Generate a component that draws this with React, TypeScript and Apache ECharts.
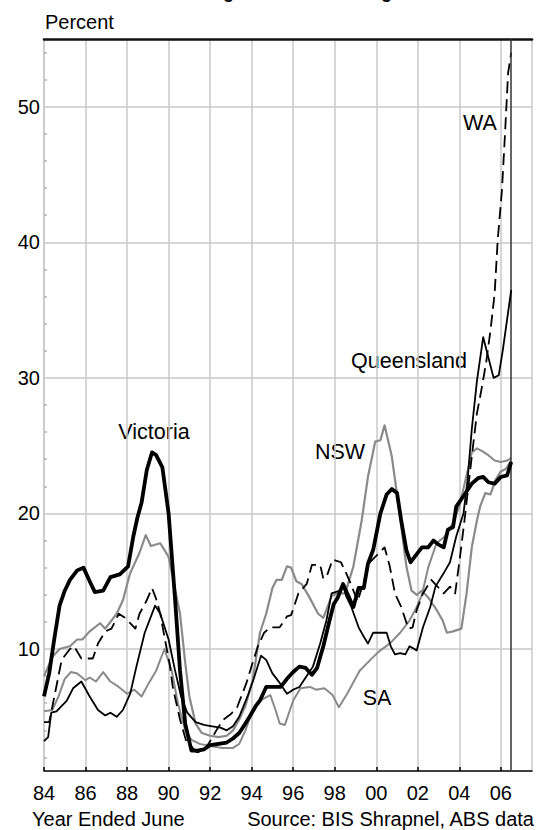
import React, { useEffect, useRef } from 'react';
import * as echarts from 'echarts';

const FONT = '"Liberation Sans", Arial, Helvetica, sans-serif';

const titleText = 'Housing Land Price Changes';
const yAxisTitle = 'Percent';
const xAxisNote = 'Year Ended June';
const sourceNote = 'Source: BIS Shrapnel, ABS data';

const xTickYears = [1984, 1986, 1988, 1990, 1992, 1994, 1996, 1998, 2000, 2002, 2004, 2006];
const xTickLabels = ['84', '86', '88', '90', '92', '94', '96', '98', '00', '02', '04', '06'];
const yTickValues = [10, 20, 30, 40, 50];
const yTickLabels = ['10', '20', '30', '40', '50'];
const yMinorTicks = [2, 4, 6, 8, 12, 14, 16, 18, 22, 24, 26, 28, 32, 34, 36, 38, 42, 44, 46, 48, 52, 54];
const xRange = [1984, 2007.5];
const yRange = [1, 55];
const dataEndYear = 2006.5;

const victoria: [number, number][] = [
  [1984.0, 6.5], [1984.25, 8.2], [1984.5, 10.8], [1984.75, 13.2], [1985.0, 14.3], [1985.25, 15.1], [1985.6, 15.8],
  [1985.9, 16.0], [1986.2, 15.0], [1986.45, 14.2], [1986.85, 14.3], [1987.2, 15.3], [1987.65, 15.5], [1988.05, 16.1],
  [1988.3, 18.3], [1988.5, 19.7], [1988.7, 20.8], [1988.95, 23.2], [1989.2, 24.5], [1989.4, 24.3], [1989.7, 23.4],
  [1990.0, 20.0], [1990.3, 13.9], [1990.55, 8.4], [1990.8, 4.5], [1991.1, 2.5], [1991.4, 2.5], [1991.7, 2.6],
  [1992.0, 2.9], [1992.4, 3.0], [1992.8, 3.1], [1993.1, 3.4], [1993.4, 3.8], [1993.7, 4.5], [1993.9, 5.0],
  [1994.2, 5.8], [1994.4, 6.2], [1994.7, 7.2], [1995.05, 7.2], [1995.4, 7.2], [1995.7, 7.8], [1996.0, 8.3],
  [1996.3, 8.7], [1996.6, 8.6], [1996.9, 8.1], [1997.15, 8.6], [1997.45, 10.2], [1997.75, 12.1], [1997.95, 13.3],
  [1998.15, 13.8], [1998.4, 14.8], [1998.75, 13.6], [1998.9, 13.1], [1999.15, 14.5], [1999.4, 14.5], [1999.6, 16.3],
  [1999.85, 17.3], [2000.2, 20.0], [2000.5, 21.4], [2000.75, 21.8], [2001.0, 21.5], [2001.2, 19.5], [2001.45, 17.3],
  [2001.65, 16.4], [2001.95, 17.0], [2002.2, 17.5], [2002.5, 17.5], [2002.75, 18.0], [2003.0, 17.7], [2003.25, 17.5],
  [2003.45, 18.8], [2003.7, 19.0], [2003.85, 20.5], [2004.25, 21.4], [2004.6, 22.2], [2004.9, 22.6], [2005.15, 22.7],
  [2005.4, 22.3], [2005.7, 22.2], [2006.0, 22.7], [2006.3, 22.8], [2006.5, 23.8],
];

const nsw: [number, number][] = [
  [1984.0, 8.0], [1984.4, 9.4], [1984.75, 10.0], [1985.25, 10.2], [1985.6, 10.7], [1985.85, 10.7], [1986.2, 11.3],
  [1986.7, 11.9], [1986.95, 11.5], [1987.5, 12.6], [1987.8, 13.6], [1988.15, 15.6], [1988.6, 17.1], [1988.9, 18.4],
  [1989.15, 17.6], [1989.6, 17.8], [1990.0, 16.8], [1990.3, 14.5], [1990.55, 12.6], [1990.8, 9.0], [1991.0, 6.5],
  [1991.3, 4.5], [1991.6, 3.8], [1992.0, 3.6], [1992.4, 3.5], [1992.8, 3.6], [1993.1, 4.0], [1993.4, 4.8],
  [1993.7, 5.8], [1994.05, 7.7], [1994.4, 11.2], [1994.7, 12.6], [1995.0, 14.5], [1995.2, 15.1], [1995.45, 15.1],
  [1995.7, 16.1], [1995.9, 16.0], [1996.15, 15.0], [1996.4, 14.8], [1996.75, 13.9], [1997.2, 12.6], [1997.45, 12.3],
  [1997.85, 13.9], [1998.1, 14.1], [1998.5, 14.1], [1998.9, 16.1], [1999.3, 19.5], [1999.6, 22.7], [1999.95, 25.3],
  [2000.2, 25.4], [2000.4, 26.5], [2000.75, 24.2], [2001.15, 19.7], [2001.45, 16.1], [2001.7, 14.3], [2001.95, 14.0],
  [2002.2, 14.3], [2002.5, 13.8], [2002.9, 12.9], [2003.2, 12.1], [2003.4, 11.2], [2003.7, 11.3], [2004.1, 11.5],
  [2004.35, 14.1], [2004.6, 17.5], [2004.85, 19.5], [2005.0, 20.5], [2005.25, 21.5], [2005.5, 21.4], [2005.75, 22.5],
  [2006.0, 23.1], [2006.25, 23.3], [2006.5, 23.9],
];

const sa: [number, number][] = [
  [1984.0, 5.4], [1984.4, 5.5], [1984.7, 6.5], [1985.0, 7.8], [1985.3, 8.3], [1985.6, 8.2], [1986.0, 7.7],
  [1986.2, 7.9], [1986.5, 7.6], [1986.85, 8.3], [1987.2, 7.6], [1987.6, 7.2], [1988.0, 6.7], [1988.35, 7.0],
  [1988.7, 6.5], [1989.05, 7.5], [1989.4, 8.4], [1989.8, 10.0], [1990.15, 8.4], [1990.45, 6.0], [1990.8, 4.0],
  [1991.1, 3.3], [1991.5, 3.0], [1992.15, 2.8], [1992.6, 2.7], [1993.1, 2.7], [1993.4, 3.0], [1993.7, 4.0],
  [1994.0, 5.3], [1994.4, 6.2], [1994.9, 6.6], [1995.15, 5.5], [1995.35, 4.5], [1995.6, 4.4], [1996.0, 6.2],
  [1996.35, 7.1], [1996.8, 7.2], [1997.1, 7.0], [1997.5, 7.1], [1997.9, 6.6], [1998.2, 5.7], [1998.6, 6.7],
  [1999.2, 8.4], [1999.85, 9.4], [2000.2, 9.9], [2000.65, 10.4], [2001.15, 11.2], [2001.6, 12.1], [2001.95, 13.1],
  [2002.2, 14.0], [2002.5, 16.0], [2002.9, 17.8], [2003.3, 18.3], [2003.7, 19.3], [2004.0, 20.5], [2004.3, 22.5],
  [2004.6, 24.5], [2004.85, 24.8], [2005.1, 24.6], [2005.4, 24.3], [2005.7, 23.9], [2006.0, 23.8], [2006.3, 23.9],
  [2006.5, 24.1],
];

const wa: [number, number][] = [
  [1984.0, 4.6], [1984.25, 4.6], [1984.5, 6.5], [1984.85, 9.2], [1985.25, 10.0], [1985.45, 10.2], [1985.8, 9.3],
  [1986.35, 9.3], [1986.6, 10.4], [1986.95, 11.3], [1987.25, 11.5], [1987.6, 12.6], [1987.9, 12.3], [1988.15, 11.9],
  [1988.4, 11.5], [1988.6, 12.6], [1988.95, 13.6], [1989.2, 14.5], [1989.4, 13.7], [1989.6, 12.6], [1989.8, 10.9],
  [1990.05, 8.9], [1990.2, 7.2], [1990.55, 4.8], [1990.85, 3.2], [1991.35, 2.4], [1991.65, 2.4], [1992.0, 3.2],
  [1992.3, 4.0], [1992.65, 4.8], [1993.0, 5.2], [1993.3, 5.7], [1993.75, 7.5], [1994.05, 9.0], [1994.3, 10.2],
  [1994.6, 11.2], [1994.9, 11.6], [1995.35, 11.6], [1995.7, 12.4], [1995.9, 12.5], [1996.25, 14.1], [1996.65, 14.8],
  [1996.9, 16.2], [1997.3, 16.2], [1997.45, 15.2], [1997.6, 15.3], [1997.9, 16.6], [1998.3, 16.4], [1998.55, 15.6],
  [1998.8, 14.7], [1999.1, 13.5], [1999.4, 15.0], [1999.7, 16.4], [1999.95, 16.8], [2000.4, 17.5], [2000.65, 16.1],
  [2000.9, 14.1], [2001.2, 13.1], [2001.55, 11.5], [2001.75, 11.6], [2001.95, 12.9], [2002.25, 14.1], [2002.65, 15.1],
  [2002.95, 14.6], [2003.25, 14.1], [2003.55, 14.6], [2003.8, 14.1], [2004.05, 17.0], [2004.25, 19.5], [2004.6, 24.2],
  [2004.85, 27.4], [2005.05, 29.0], [2005.3, 31.2], [2005.5, 33.5], [2005.7, 36.2], [2005.85, 40.2], [2006.05, 43.8],
  [2006.2, 48.0], [2006.35, 52.5], [2006.5, 54.0],
];

const qld: [number, number][] = [
  [1984.0, 3.2], [1984.2, 3.5], [1984.35, 5.3], [1984.6, 5.4], [1985.1, 6.2], [1985.4, 7.1], [1985.8, 7.6],
  [1986.2, 6.5], [1986.6, 5.5], [1986.95, 5.1], [1987.2, 5.3], [1987.5, 5.0], [1987.8, 5.5], [1988.15, 6.7],
  [1988.45, 8.7], [1988.85, 11.2], [1989.35, 13.2], [1989.6, 12.6], [1990.0, 10.7], [1990.3, 8.5], [1990.6, 6.5],
  [1990.9, 5.3], [1991.3, 4.6], [1991.7, 4.4], [1992.1, 4.3], [1992.5, 4.2], [1992.8, 4.0], [1993.1, 4.3],
  [1993.4, 5.0], [1993.8, 6.5], [1994.1, 7.8], [1994.45, 9.5], [1994.7, 9.2], [1995.0, 8.2], [1995.35, 7.5],
  [1995.7, 6.7], [1996.0, 7.0], [1996.3, 7.2], [1996.65, 8.0], [1996.95, 8.7], [1997.3, 10.4], [1997.6, 12.1],
  [1997.85, 14.1], [1998.25, 14.3], [1998.4, 14.7], [1998.55, 13.9], [1998.8, 13.1], [1999.15, 11.6], [1999.4, 10.9],
  [1999.6, 10.4], [1999.85, 11.2], [2000.2, 11.2], [2000.5, 11.2], [2000.7, 10.2], [2000.9, 9.6], [2001.15, 9.7],
  [2001.4, 9.6], [2001.6, 10.2], [2001.95, 9.9], [2002.25, 11.6], [2002.6, 13.1], [2002.85, 14.6], [2003.25, 15.6],
  [2003.55, 16.4], [2003.85, 18.3], [2004.2, 20.0], [2004.4, 22.5], [2004.6, 26.2], [2004.85, 29.8], [2005.15, 33.0],
  [2005.4, 31.5], [2005.65, 30.0], [2005.9, 30.2], [2006.1, 32.1], [2006.5, 36.5],
];

const GRID_COLOR = '#c8c8c8';
const GRAY_LINE = '#8a8a8a';

function line(name: string, data: [number, number][], color: string, width: number, type: any, z: number, extra: any = {}) {
  return {
    type: 'line',
    name,
    data,
    showSymbol: false,
    symbol: 'none',
    silent: true,
    z,
    lineStyle: { color, width, type, join: 'round', cap: 'butt' },
    ...extra,
  };
}

export default function App() {
  const ref = useRef<HTMLDivElement>(null);

  useEffect(() => {
    document.body.style.margin = '0';
    if (!ref.current) return;
    const chart = echarts.init(ref.current, undefined, { renderer: 'svg' });

    const textStyle = (text: string, size: number, align: string, weight = 'normal') => ({
      text,
      fontSize: size,
      fontFamily: FONT,
      fontWeight: weight,
      fill: '#000',
      align,
      verticalAlign: 'middle',
    });

    const option: any = {
      animation: false,
      backgroundColor: '#fff',
      grid: { left: 44, right: 14, top: 39, bottom: 59, containLabel: false },
      xAxis: [
        {
          type: 'value',
          min: xRange[0],
          max: xRange[1],
          interval: 2,
          position: 'bottom',
          axisLine: { show: true, lineStyle: { color: '#000', width: 1.5 } },
          axisTick: {
            show: true,
            inside: true,
            length: 4,
            customValues: xTickYears,
            lineStyle: { color: '#000', width: 1.5 },
          },
          axisLabel: {
            show: true,
            customValues: xTickYears,
            formatter: (v: number) => {
              const i = xTickYears.indexOf(Math.round(v));
              return i >= 0 ? xTickLabels[i] : '';
            },
            fontSize: 20,
            fontFamily: FONT,
            color: '#000',
            margin: 12,
            hideOverlap: false,
          },
          splitLine: { show: true, lineStyle: { color: GRID_COLOR, width: 1.5 } },
        },
        {
          type: 'value',
          min: xRange[0],
          max: xRange[1],
          position: 'top',
          axisLine: { show: true, lineStyle: { color: '#111', width: 2.5 } },
          axisTick: { show: false },
          axisLabel: { show: false },
          splitLine: { show: false },
        },
      ],
      yAxis: [
        {
          type: 'value',
          min: yRange[0],
          max: yRange[1],
          position: 'left',
          axisLine: { show: true, lineStyle: { color: GRID_COLOR, width: 1.5 } },
          axisTick: { show: false, customValues: yTickValues },
          axisLabel: {
            show: true,
            customValues: yTickValues,
            formatter: (v: number) => {
              const i = yTickValues.indexOf(Math.round(v));
              return i >= 0 ? yTickLabels[i] : '';
            },
            fontSize: 20,
            fontFamily: FONT,
            color: '#000',
            margin: 4,
          },
          splitLine: { show: true, lineStyle: { color: GRID_COLOR, width: 1.5 } },
        },
        {
          type: 'value',
          min: yRange[0],
          max: yRange[1],
          position: 'left',
          axisLine: { show: false },
          axisTick: {
            show: true,
            inside: true,
            length: 3,
            customValues: yMinorTicks,
            lineStyle: { color: '#b0b0b0', width: 1.5 },
          },
          axisLabel: { show: false },
          splitLine: { show: false },
        },
        {
          type: 'value',
          min: yRange[0],
          max: yRange[1],
          position: 'right',
          axisLine: { show: true, lineStyle: { color: GRID_COLOR, width: 1.5 } },
          axisTick: { show: false },
          axisLabel: { show: false },
          splitLine: { show: false },
        },
      ],
      series: [
        line('SA', sa, GRAY_LINE, 2, 'solid', 2),
        line('NSW', nsw, GRAY_LINE, 2.2, 'solid', 3),
        line('WA', wa, '#000', 1.8, [12, 6], 4),
        line('Queensland', qld, '#000', 1.8, 'solid', 5),
        line('Victoria', victoria, '#000', 3.8, 'solid', 6, {
          markLine: {
            silent: true,
            symbol: ['none', 'none'],
            label: { show: false },
            lineStyle: { color: '#333', width: 1.5, type: 'solid' },
            data: [{ xAxis: dataEndYear }],
          },
        }),
      ],
      graphic: [
        { type: 'text', x: 287, y: -8, style: textStyle(titleText, 18, 'center', 'bold') },
        { type: 'text', x: 45, y: 21.5, style: textStyle(yAxisTitle, 20, 'left') },
        { type: 'text', x: 32, y: 819, style: textStyle(xAxisNote, 20, 'left') },
        { type: 'text', x: 534, y: 819, style: textStyle(sourceNote, 20, 'right') },
        { type: 'text', x: 154, y: 432, style: textStyle('Victoria', 21.5, 'center') },
        { type: 'text', x: 340, y: 452, style: textStyle('NSW', 21.5, 'center') },
        { type: 'text', x: 480, y: 123, style: textStyle('WA', 21.5, 'center') },
        { type: 'text', x: 467, y: 361, style: textStyle('Queensland', 21.5, 'right') },
        { type: 'text', x: 377, y: 698, style: textStyle('SA', 21.5, 'center') },
      ],
    };

    chart.setOption(option);
    return () => {
      chart.dispose();
    };
  }, []);

  return (
    <div
      ref={ref}
      style={{ position: 'absolute', left: 0, top: 0, width: 546, height: 830, background: '#fff' }}
    />
  );
}
